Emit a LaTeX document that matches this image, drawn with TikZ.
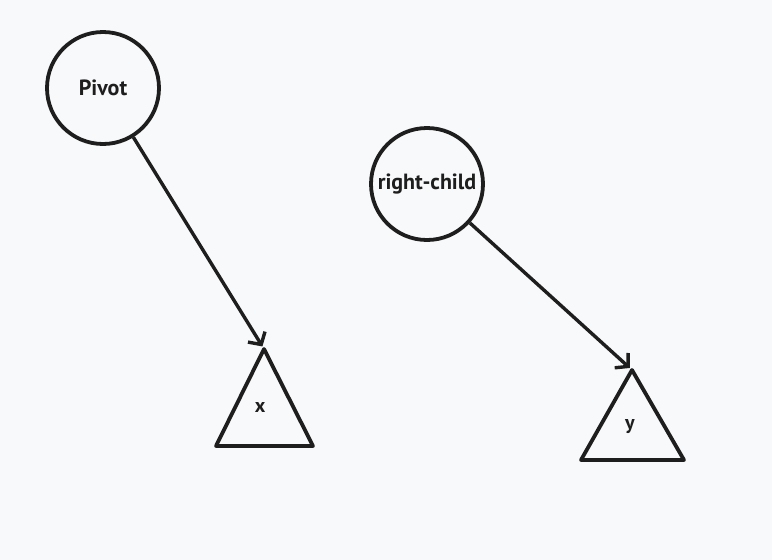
\documentclass[tikz,border=0pt]{standalone}
\usepackage{fontspec}
\setmainfont{PT Sans}
\usepackage{xcolor}
\usepackage{tikz}
\usetikzlibrary{arrows.meta,positioning,calc}
\definecolor{paper}{HTML}{F8F9FA}
\definecolor{ink}{HTML}{1E1E1E}

\begin{document}
\begin{tikzpicture}[
  x=1pt, y=-1pt,
  tnode/.style={circle, draw=ink, line width=3.8pt, inner sep=0pt, minimum size=112pt, font=\bfseries\fontsize{22}{26}\selectfont, text=ink},
  subtree/.style={draw=ink, line width=3.8pt, line join=round},
  lbl/.style={font=\bfseries\fontsize{20}{24}\selectfont, text=ink},
  arrow/.style={-{Straight Barb[length=9pt, width=20pt, line width=3.4pt]}, line width=3.4pt, draw=ink}
]
\fill[paper] (0,0) rectangle (772,560);
\useasboundingbox (0,0) rectangle (772,560);

\node[tnode] (pivot) at (103,88) {Pivot};
\node[tnode] (rchild) at (427,184) {right-child};

% subtrees
\coordinate (xtop) at (264,349);
\coordinate (ytop) at (632,370);
\draw[subtree] (xtop) -- (313,446) -- (216,446) -- cycle;
\draw[subtree] (ytop) -- (684,460) -- (581,460) -- cycle;
\node[lbl] (xlbl) at (260,407) {x};
\node[lbl] (ylbl) at (630,427) {y};

\draw[arrow, shorten >=3pt] (pivot) -- (xtop);
\draw[arrow, shorten >=3pt] (rchild) -- (ytop);
\end{tikzpicture}
\end{document}
